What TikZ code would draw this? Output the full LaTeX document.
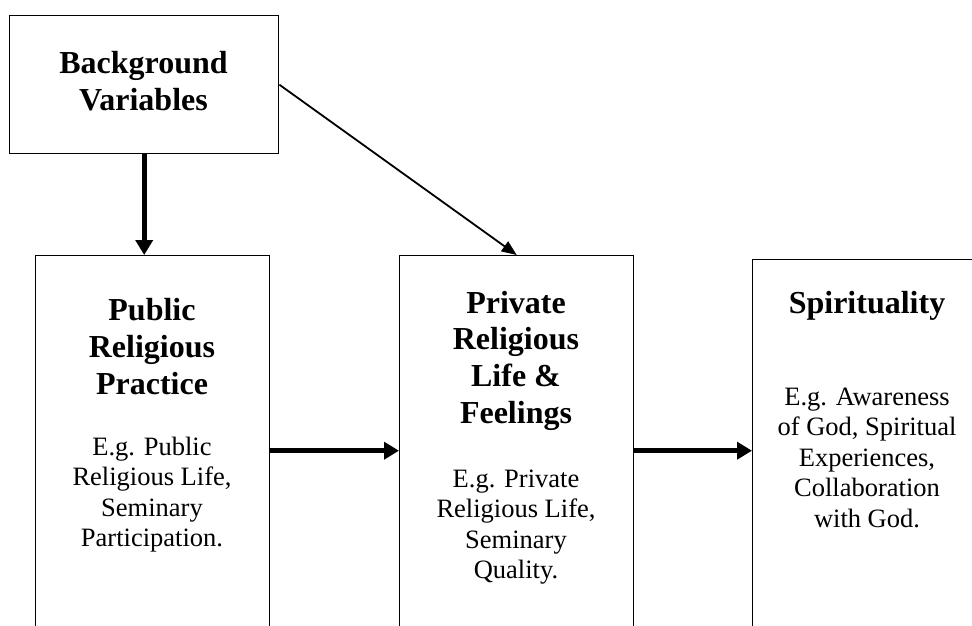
\documentclass[tikz,border=0pt]{standalone}
\usepackage{fontspec}
\setmainfont{Liberation Serif}
\usetikzlibrary{arrows.meta}
\tikzstyle{box}=[draw,line width=1.4pt,inner sep=0pt,anchor=north west]
\tikzstyle{head}=[anchor=base,align=center,inner sep=0pt,font=\bfseries\fontsize{32}{36.8}\selectfont]
\tikzstyle{body}=[anchor=base,align=center,inner sep=0pt,font=\fontsize{26.5}{30.5}\selectfont]
\tikzstyle{bigarrow}=[line width=5pt,-{Triangle[length=15pt,width=17pt]}]
\tikzstyle{thinarrow}=[line width=1.8pt,-{Triangle[length=15pt,width=12pt]}]

\begin{document}
\begin{tikzpicture}[x=1pt,y=-1pt]
      \useasboundingbox (0,0) rectangle (972,625);
      \clip (0,0) rectangle (972,625);

      % boxes
      \node[box,minimum width=269pt,minimum height=138pt] (bg) at (9,15) {};
      \node[box,minimum width=234pt,minimum height=390pt] (pub) at (35,255) {};
      \node[box,minimum width=234pt,minimum height=390pt] (pri) at (399,255) {};
      \node[box,minimum width=230pt,minimum height=390pt] (spi) at (752,259) {};

      % texts (placed at the baseline of their last line)
      \node[head] (bgt) at (143.5,110) {Background\\Variables};
      \node[head] (pubt) at (152,394.5) {Public\\Religious\\Practice};
      \node[body] (pubb) at (152,546.5) {E.g. Public\\Religious Life,\\Seminary\\Participation.};
      \node[head] (prit) at (516,423.5) {Private\\Religious\\Life \&\\Feelings};
      \node[body] (prib) at (516,578.5) {E.g. Private\\Religious Life,\\Seminary\\Quality.};
      \node[head] (spit) at (867,313) {Spirituality};
      \node[body] (spib) at (867,527) {E.g. Awareness\\of God, Spiritual\\Experiences,\\Collaboration\\with God.};

      % arrows
      \draw[bigarrow] (bg.south) -- (bg.south |- pub.north);
      \draw[thinarrow] (bg.east) -- (pri.north);
      \draw[bigarrow] (pub.east) -- (pri.west);
      \draw[bigarrow] (pri.east) -- (pri.east -| spi.west);
\end{tikzpicture}
\end{document}
